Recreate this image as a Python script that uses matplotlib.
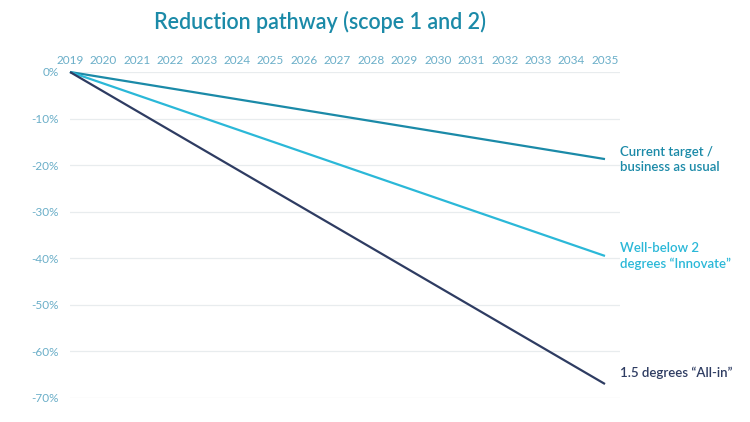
import matplotlib
matplotlib.use("Agg")
import matplotlib.pyplot as plt

years = [2019, 2035]
series_names = ["Current target /\nbusiness as usual", "Well-below 2\ndegrees \u201cInnovate\u201d", "1.5 degrees \u201cAll-in\u201d"]
current_target = [0, -18.7]
well_below = [0, -39.5]
all_in = [0, -67.0]
tick_years = list(range(2019, 2036))
y_ticks = [0, -10, -20, -30, -40, -50, -60, -70]

colors = ["#1b8aa8", "#2bb8d8", "#2e3c62"]
label_y = [-18.7, -39.5, -64.5]

plt.rcParams['font.family'] = ['Lato', 'DejaVu Sans']
fig = plt.figure(figsize=(7.5, 4.22), dpi=100)
ax = fig.add_axes([70/750, 1-398/422, 550/750, (398-72)/422])

for vals, c in zip([current_target, well_below, all_in], colors):
    ax.plot(years, vals, color=c, lw=1.6, clip_on=False, zorder=3, solid_capstyle='butt')

for vals, name, c, ly in zip([current_target, well_below, all_in], series_names, colors, label_y):
    ax.annotate(name, xy=(years[-1], ly), xytext=(11, 0), textcoords='offset points',
                color=c, fontsize=9.5, fontweight='semibold', va='center', ha='left',
                annotation_clip=False, linespacing=1.3)

ax.set_xlim(2019, 2019 + 16 * 550 / 535)
ax.set_ylim(-70, 0)
ax.set_yticks(y_ticks)
ax.set_yticklabels([f"{v}%" for v in y_ticks])
ax.set_xticks(tick_years)
ax.set_xticklabels([str(y) for y in tick_years])
ax.xaxis.tick_top()
ax.tick_params(axis='both', length=0, colors='#6aaec8', labelsize=8.5)
ax.tick_params(axis='x', pad=4)
ax.tick_params(axis='y', pad=8)
ax.grid(axis='y', color='#e8ecee', lw=0.9)
ax.grid(axis='x', visible=False)
for s in ax.spines.values():
    s.set_visible(False)
ax.set_axisbelow(True)

fig.text(320/750, 1-22/422, "Reduction pathway (scope 1 and 2)", ha='center', va='center',
         fontsize=15.5, fontweight='semibold', color='#1b8aa8')

fig.savefig("out.png", dpi=100)
